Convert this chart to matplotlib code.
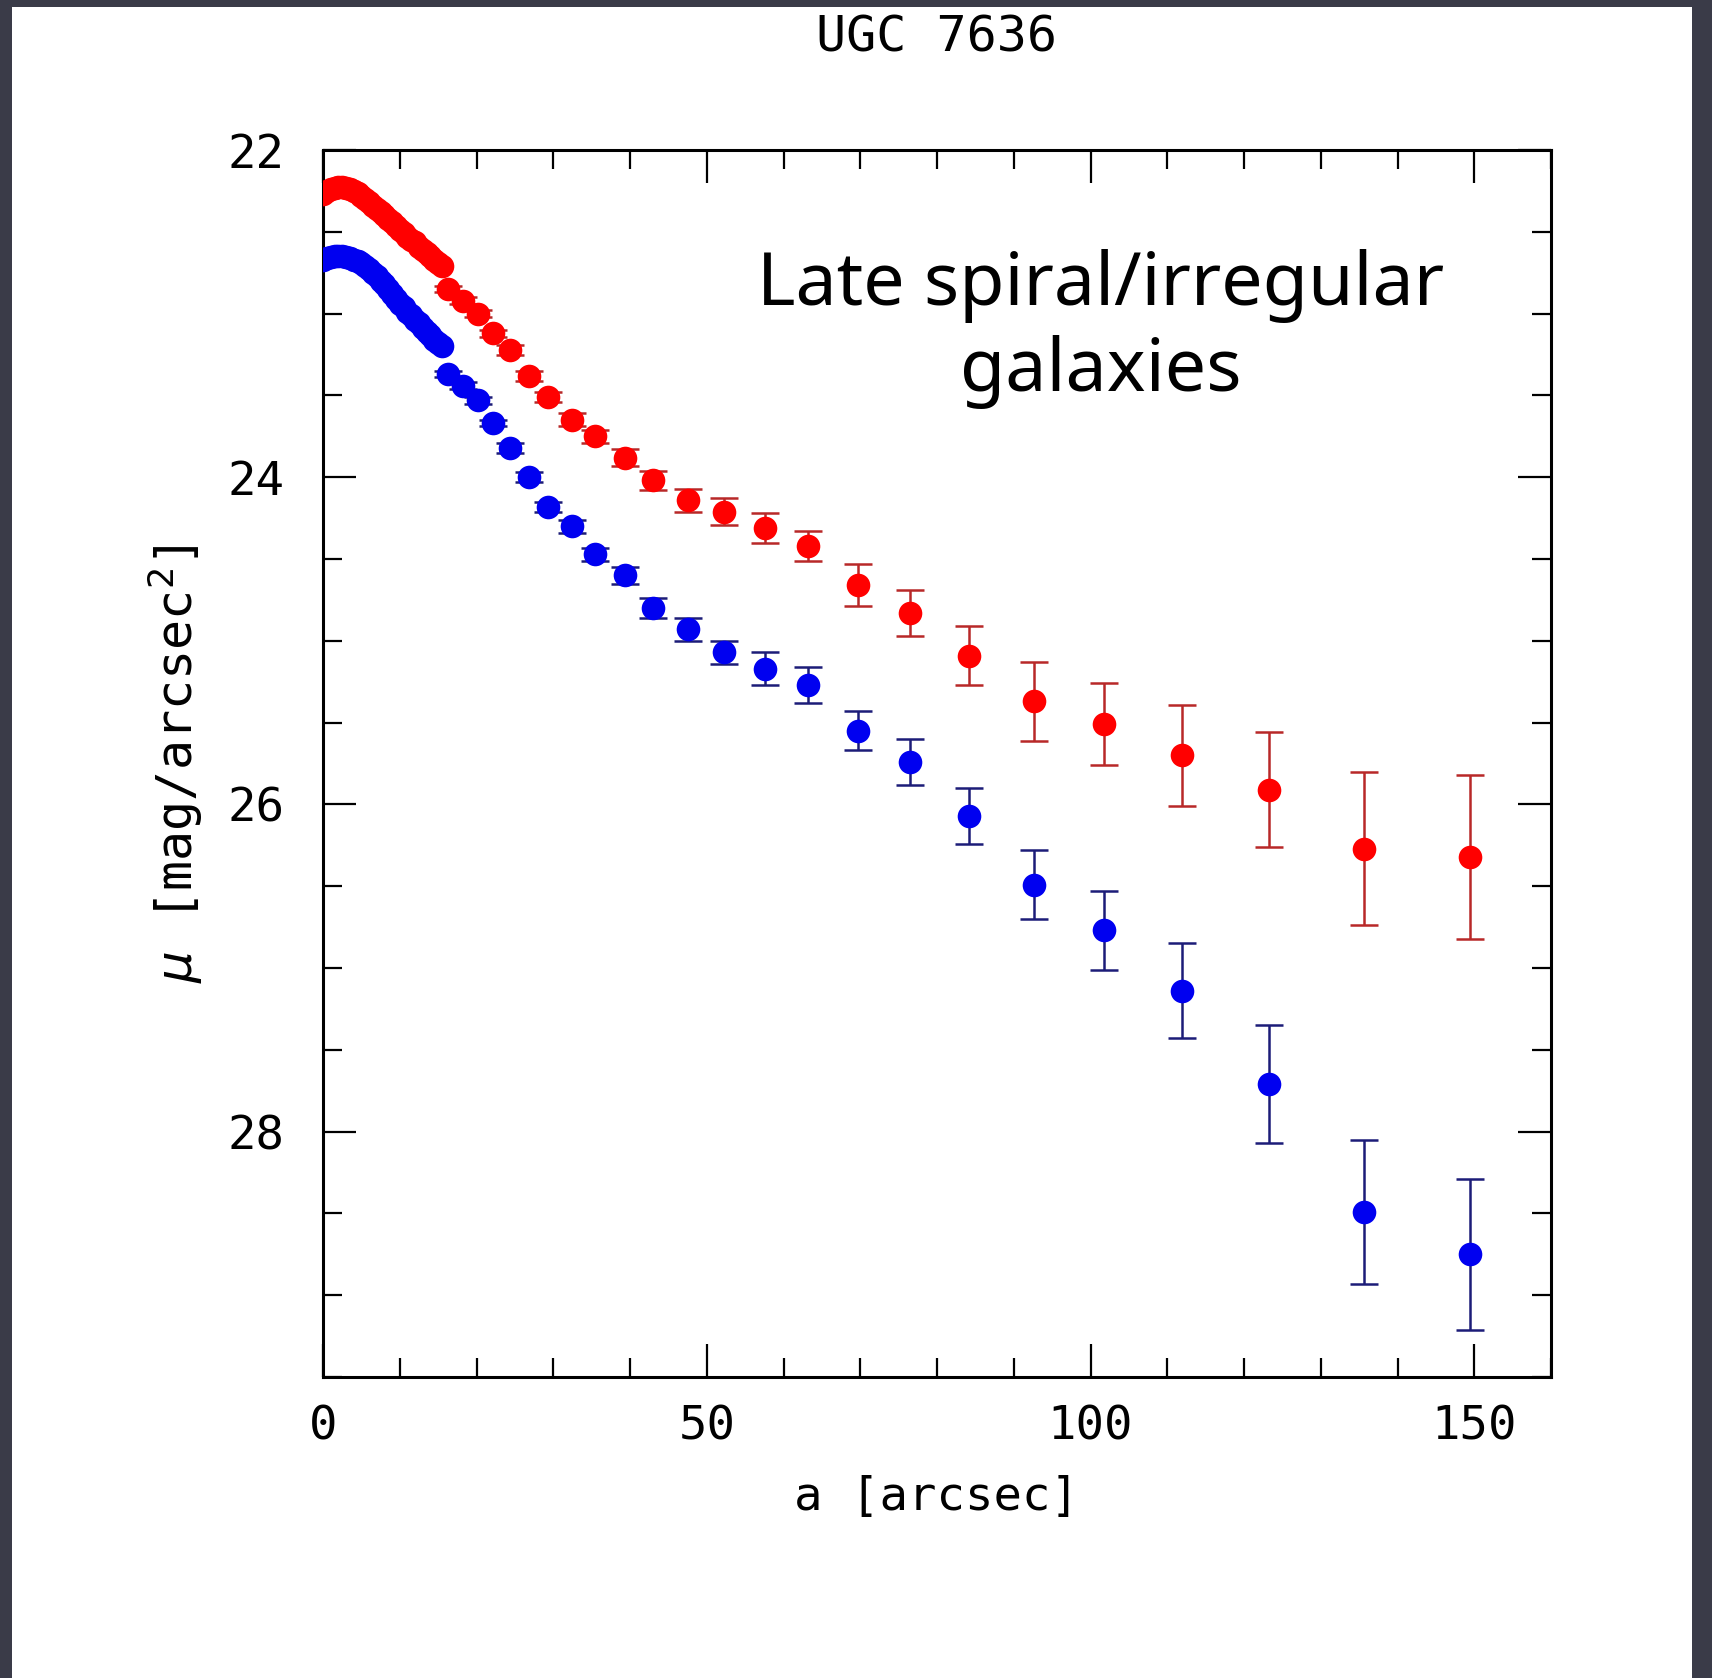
import matplotlib
matplotlib.use('Agg')
import matplotlib.pyplot as plt  # For plotting
from matplotlib.patches import Rectangle
from matplotlib.ticker import MultipleLocator

# ------------------- Data ------------------- #
# Inner, densely sampled part of the profiles (no visible error bars)
a_inner = [0.0, 0.5, 1.0, 1.5, 2.0, 2.5, 3.0, 3.5, 4.0, 4.5, 5.0, 5.5,
           6.0, 6.5, 7.0, 7.5, 8.0, 8.5, 9.0, 9.5, 10.0, 10.5, 11.0, 11.5,
           12.0, 12.5, 13.0, 13.5, 14.0, 14.5, 15.0, 15.5]
red_inner = [22.27, 22.25, 22.24, 22.23, 22.225, 22.225, 22.23, 22.24,
             22.25, 22.26, 22.28, 22.30, 22.32, 22.34, 22.36, 22.38,
             22.40, 22.42, 22.44, 22.465, 22.49, 22.51, 22.53, 22.55,
             22.565, 22.59, 22.61, 22.63, 22.65, 22.67, 22.69, 22.71]
blue_inner = [22.67, 22.66, 22.655, 22.65, 22.65, 22.65, 22.655, 22.66,
              22.67, 22.68, 22.69, 22.71, 22.73, 22.75, 22.77, 22.80,
              22.82, 22.85, 22.88, 22.91, 22.94, 22.96, 22.99, 23.01,
              23.04, 23.06, 23.09, 23.11, 23.13, 23.16, 23.18, 23.20]

# Outer, logarithmically spaced part of the profiles
a_outer = [16.3, 18.3, 20.2, 22.2, 24.3, 26.9, 29.3, 32.4, 35.4, 39.3,
           43.0, 47.5, 52.2, 57.6, 63.2, 69.7, 76.5, 84.2, 92.6, 101.8,
           111.9, 123.2, 135.6, 149.5]
red_outer = [22.85, 22.92, 23.00, 23.12, 23.22, 23.38, 23.51, 23.65, 23.75,
             23.88, 24.02, 24.14, 24.21, 24.31, 24.42, 24.66, 24.83, 25.09,
             25.37, 25.51, 25.70, 25.91, 26.27, 26.32]
red_err = [0.02, 0.02, 0.02, 0.02, 0.03, 0.03, 0.03, 0.04, 0.04, 0.05,
           0.06, 0.07, 0.08, 0.09, 0.09, 0.13, 0.14, 0.18, 0.24, 0.25,
           0.31, 0.35, 0.47, 0.50]
blue_outer = [23.37, 23.44, 23.53, 23.67, 23.82, 24.00, 24.18, 24.30, 24.47,
              24.60, 24.80, 24.93, 25.07, 25.17, 25.27, 25.55, 25.74, 26.07,
              26.49, 26.77, 27.14, 27.71, 28.49, 28.75]
blue_err = [0.02, 0.02, 0.02, 0.02, 0.03, 0.03, 0.03, 0.04, 0.04, 0.05,
            0.06, 0.07, 0.07, 0.10, 0.11, 0.12, 0.14, 0.17, 0.21, 0.24,
            0.29, 0.36, 0.44, 0.46]

# ------------------- Figure and frame ------------------- #
plt.rcParams['mathtext.fontset'] = 'dejavusans'
mono = 'DejaVu Sans Mono'

fig = plt.figure(figsize=(17.12, 16.78), dpi=100, facecolor='#3a3b48')
# white slide area inside the dark border
fig.add_artist(Rectangle((12 / 1712, 0), 1680 / 1712, 1 - 7 / 1678,
                         transform=fig.transFigure, facecolor='white',
                         edgecolor='none', zorder=0))

ax = fig.add_axes([323 / 1712, 1 - 1377 / 1678, 1228 / 1712, 1227 / 1678])
ax.set_facecolor('white')

# ------------------- Plot the profiles ------------------- #
ms = 17
ax.plot(a_inner, red_inner, 'o', color='#ff0000', ms=ms, mec='none', zorder=3)
ax.plot(a_inner, blue_inner, 'o', color='#0000f0', ms=ms, mec='none', zorder=3)
ax.errorbar(a_outer, red_outer, yerr=red_err, fmt='o', color='#ff0000',
            ms=ms, mec='none', ecolor='#b82828', elinewidth=1.8,
            capsize=10, capthick=1.8, zorder=3)
ax.errorbar(a_outer, blue_outer, yerr=blue_err, fmt='o', color='#0000f0',
            ms=ms, mec='none', ecolor='#1c1c78', elinewidth=1.8,
            capsize=10, capthick=1.8, zorder=3)

# ------------------- Format plot ------------------- #
ax.set_xlim(0, 160)
ax.set_ylim(29.5, 22)  # magnitudes: brighter at top

ax.xaxis.set_major_locator(MultipleLocator(50))
ax.xaxis.set_minor_locator(MultipleLocator(10))
ax.yaxis.set_major_locator(MultipleLocator(2))
ax.yaxis.set_minor_locator(MultipleLocator(0.5))

ax.tick_params(which='both', direction='in', top=True, right=True,
               width=1.6, color='black')
ax.tick_params(which='major', length=24)
ax.tick_params(which='minor', length=13.5)
ax.tick_params(axis='x', which='major', pad=20)
ax.tick_params(axis='y', which='major', pad=28)
for spine in ax.spines.values():
    spine.set_linewidth(2.2)

for lab in ax.get_xticklabels() + ax.get_yticklabels():
    lab.set_fontfamily(mono)
    lab.set_fontsize(34)

ax.set_xlabel('a [arcsec]', fontsize=34, family=mono)
ax.xaxis.set_label_coords(0.5, -0.098)
ax.xaxis.label.set_va('center')
ax.set_ylabel(r'$\mu$ [mag/arcsec$^2$]', fontsize=36, family=mono)
ax.yaxis.set_label_coords(-0.1205, 0.5)
ax.yaxis.label.set_va('center')

# Chart title above the box
ax.text(0.5, 1.092, 'UGC 7636', transform=ax.transAxes, ha='center',
        va='center', fontsize=36, family=mono)

# Annotation inside the panel
ax.text(0.633, 0.854, 'Late spiral/irregular\ngalaxies', transform=ax.transAxes,
        ha='center', va='center', multialignment='center', fontsize=53,
        family='Noto Sans', linespacing=1.22)

fig.savefig('out.png', dpi=100, facecolor=fig.get_facecolor())
